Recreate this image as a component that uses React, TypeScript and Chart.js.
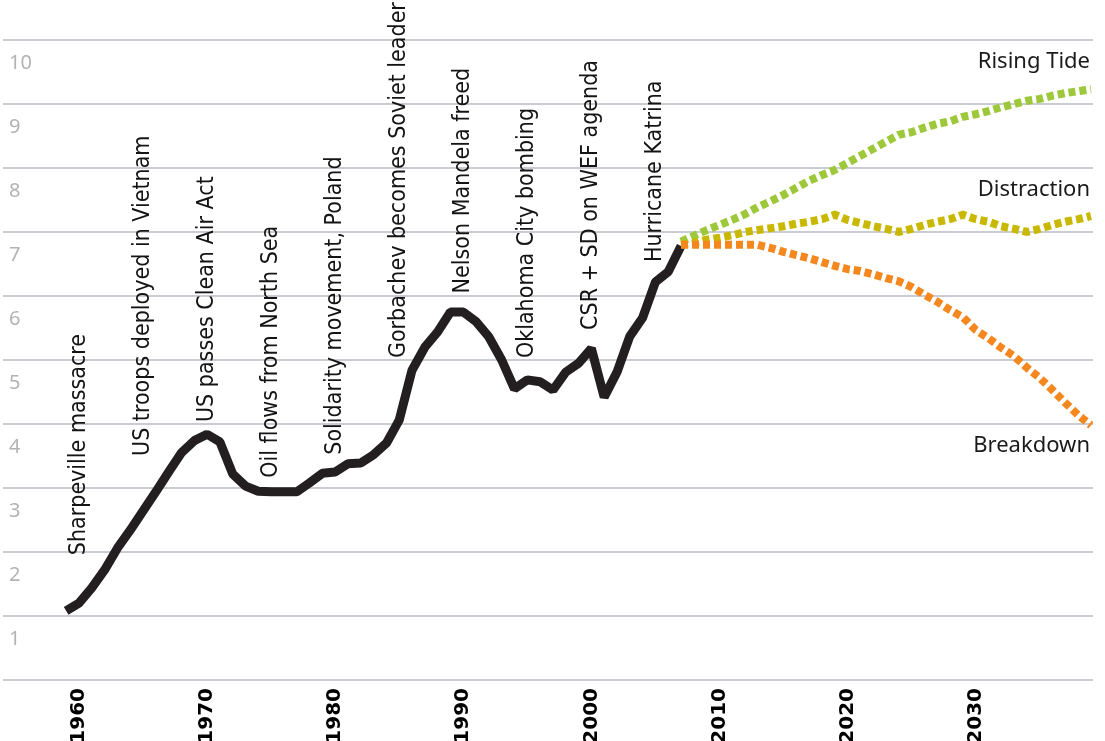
import React, { useEffect, useRef } from "react";
import { Chart, registerables } from "chart.js";

Chart.register(...registerables);

// ---- data ----
const historyYears = [
  1959, 1960, 1961, 1962, 1963, 1964, 1965, 1966, 1967, 1968,
  1969, 1970, 1971, 1972, 1973, 1974, 1975, 1976, 1977, 1978,
  1979, 1980, 1981, 1982, 1983, 1984, 1985, 1986, 1987, 1988,
  1989, 1990, 1991, 1992, 1993, 1994, 1995, 1996, 1997, 1998,
  1999, 2000, 2001, 2002, 2003, 2004, 2005, 2006, 2007,
];
const historyValues = [
  1.08, 1.2, 1.44, 1.72, 2.06, 2.34, 2.64, 2.94, 3.25, 3.55,
  3.74, 3.84, 3.72, 3.22, 3.03, 2.95, 2.94, 2.94, 2.94, 3.08,
  3.23, 3.25, 3.38, 3.39, 3.52, 3.7, 4.06, 4.84, 5.2, 5.44,
  5.75, 5.75, 5.6, 5.36, 5.0, 4.55, 4.69, 4.66, 4.53, 4.81,
  4.95, 5.18, 4.42, 4.81, 5.37, 5.66, 6.22, 6.38, 6.78,
];

const scenarioYears = [
  2007, 2008, 2009, 2010, 2011, 2012, 2013, 2014, 2015, 2016,
  2017, 2018, 2019, 2020, 2021, 2022, 2023, 2024, 2025, 2026,
  2027, 2028, 2029, 2030, 2031, 2032, 2033, 2034, 2035, 2036,
  2037, 2038, 2039,
];
const risingTide = [
  6.85, 6.94, 7.03, 7.11, 7.19, 7.28, 7.39, 7.48, 7.58, 7.69,
  7.8, 7.89, 7.97, 8.08, 8.19, 8.3, 8.41, 8.52, 8.56, 8.63,
  8.69, 8.73, 8.8, 8.84, 8.89, 8.95, 9.0, 9.05, 9.08, 9.13,
  9.17, 9.2, 9.23,
];
const distraction = [
  6.8, 6.83, 6.88, 6.91, 6.95, 7.0, 7.03, 7.06, 7.09, 7.13,
  7.16, 7.2, 7.27, 7.19, 7.14, 7.09, 7.05, 7.0, 7.05, 7.11,
  7.16, 7.2, 7.27, 7.2, 7.16, 7.09, 7.05, 7.0, 7.05, 7.11,
  7.16, 7.2, 7.25,
];
const breakdown = [
  6.8, 6.8, 6.8, 6.8, 6.8, 6.8, 6.8, 6.75, 6.69, 6.64,
  6.59, 6.53, 6.47, 6.42, 6.39, 6.34, 6.28, 6.23, 6.14, 6.02,
  5.91, 5.78, 5.67, 5.47, 5.34, 5.19, 5.06, 4.88, 4.72, 4.53,
  4.33, 4.14, 3.98,
];

const xTickYears = [1960, 1970, 1980, 1990, 2000, 2010, 2020, 2030];

const eventYears = [1960, 1965, 1970, 1975, 1980, 1985, 1990, 1995, 2000, 2005];
const eventLabels = [
  "Sharpeville massacre",
  "US troops deployed in Vietnam",
  "US passes Clean Air Act",
  "Oil flows from North Sea",
  "Solidarity movement, Poland",
  "Gorbachev becomes Soviet leader",
  "Nelson Mandela freed",
  "Oklahoma City bombing",
  "CSR + SD on WEF agenda",
  "Hurricane Katrina",
];
const eventAnchorValues = [1.95, 3.5, 4.03, 3.16, 3.52, 5.03, 6.04, 5.03, 5.47, 6.53];

const scenarioNames = ["Rising Tide", "Distraction", "Breakdown"];
const scenarioLabelValues = [9.66, 7.66, 3.66];

const toPoints = (xs: number[], ys: number[]) => xs.map((v, i) => ({ x: v, y: ys[i] }));

const annotationPlugin = {
  id: "eventAnnotations",
  afterDatasetsDraw(chart: any) {
    const { ctx, scales, chartArea } = chart;
    const xs = scales.x;
    const ys = scales.y;
    ctx.save();
    ctx.fillStyle = "#141414";
    ctx.font = '23px "DejaVu Sans Condensed", "Liberation Sans Narrow", "DejaVu Sans"';
    ctx.textAlign = "left";
    ctx.textBaseline = "middle";
    eventLabels.forEach((t, i) => {
      const px = xs.getPixelForValue(eventYears[i]);
      const py = ys.getPixelForValue(eventAnchorValues[i]);
      ctx.save();
      ctx.translate(px, py);
      ctx.rotate(-Math.PI / 2);
      ctx.fillText(t, 0, 0);
      ctx.restore();
    });
    ctx.font = '22px "Noto Sans"';
    ctx.textAlign = "right";
    ctx.fillStyle = "#1a1a1a";
    scenarioNames.forEach((n, i) => {
      ctx.fillText(n, chartArea.right - 3, ys.getPixelForValue(scenarioLabelValues[i]));
    });
    ctx.restore();
  },
};

export default function App() {
  const ref = useRef<HTMLCanvasElement | null>(null);

  useEffect(() => {
    if (!ref.current) return;
    const dash = [7, 4];
    const chart = new Chart(ref.current, {
      type: "line",
      data: {
        datasets: [
          {
            label: "Breakdown",
            data: toPoints(scenarioYears, breakdown),
            borderColor: "#f5871f",
            borderWidth: 8,
            borderDash: dash,
            pointRadius: 0,
            tension: 0,
            fill: false,
          },
          {
            label: "Distraction",
            data: toPoints(scenarioYears, distraction),
            borderColor: "#c9b800",
            borderWidth: 8,
            borderDash: dash,
            pointRadius: 0,
            tension: 0,
            fill: false,
          },
          {
            label: "Rising Tide",
            data: toPoints(scenarioYears, risingTide),
            borderColor: "#9cc83a",
            borderWidth: 8,
            borderDash: dash,
            pointRadius: 0,
            tension: 0,
            fill: false,
          },
          {
            label: "History",
            data: toPoints(historyYears, historyValues),
            borderColor: "#231f20",
            borderWidth: 9,
            borderJoinStyle: "bevel",
            pointRadius: 0,
            tension: 0,
            fill: false,
          },
        ],
      },
      options: {
        responsive: false,
        animation: false,
        devicePixelRatio: 1,
        layout: { padding: { top: 40, left: 3, right: 12, bottom: 0 } },
        plugins: {
          legend: { display: false },
          tooltip: { enabled: false },
          title: { display: false },
        },
        scales: {
          x: {
            type: "linear",
            min: 1954.07,
            max: 2039.16,
            grid: { display: false, drawTicks: false },
            border: { display: false },
            afterBuildTicks: (scale: any) => {
              scale.ticks = xTickYears.map((v) => ({ value: v }));
            },
            afterFit: (scale: any) => {
              scale.height = 70;
            },
            ticks: {
              autoSkip: false,
              minRotation: 90,
              maxRotation: 90,
              padding: 8,
              color: "#000",
              font: { family: '"DejaVu Sans"', size: 20, weight: "bold" },
              callback: (v: any) => String(v),
            },
          },
          y: {
            min: 0,
            max: 10,
            afterFit: (scale: any) => {
              scale.width = 0;
            },
            grid: { color: "#c9ccd2", lineWidth: 2, drawTicks: false },
            border: { display: false },
            ticks: {
              stepSize: 1,
              mirror: true,
              padding: 6,
              labelOffset: 23,
              color: "#b3b3b3",
              font: { family: '"Noto Sans"', size: 20 },
              callback: (v: any) => (v === 0 ? "" : String(v)),
            },
          },
        },
      },
      plugins: [annotationPlugin],
    });
    return () => chart.destroy();
  }, []);

  return (
    <div
      style={{
        position: "absolute",
        left: 0,
        top: 0,
        width: 1105,
        height: 741,
        overflow: "hidden",
        background: "#fff",
      }}
    >
      <canvas ref={ref} width={1105} height={750} style={{ width: 1105, height: 750, display: "block" }} />
    </div>
  );
}
